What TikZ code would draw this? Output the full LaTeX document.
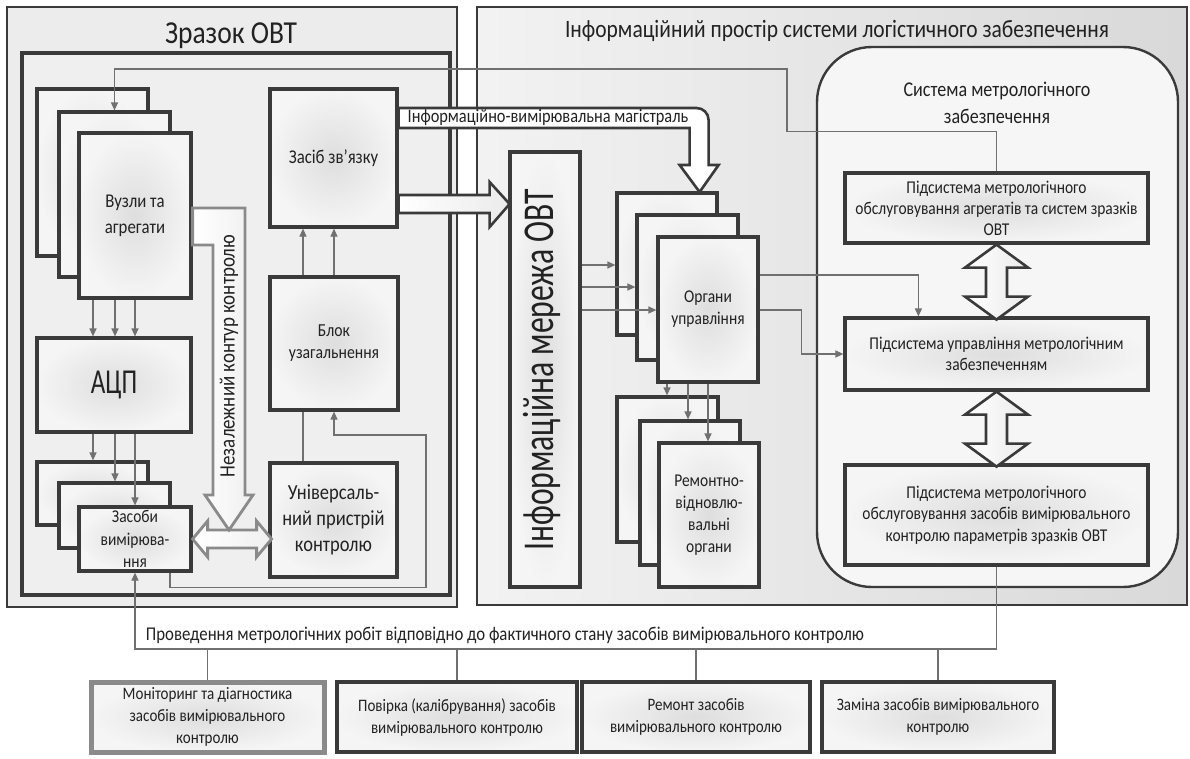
\documentclass[tikz,border=0pt]{standalone}
\usepackage{fontspec}
\setmainfont{Carlito}[FakeStretch=0.86]
\newfontfamily\condf{Carlito}[FakeStretch=0.72]
\usetikzlibrary{arrows.meta,calc}
\definecolor{dk}{HTML}{3A3A3A}
\definecolor{ln}{HTML}{707070}
\definecolor{lg}{HTML}{8A8A8A}
\definecolor{txt}{HTML}{222222}
\definecolor{bgL}{HTML}{ECECEC}
\definecolor{bgI}{HTML}{EFEFEF}
\definecolor{sysf}{HTML}{F6F6F6}
\newcommand{\fsz}[2]{\fontsize{#1}{#2}\selectfont}
\begin{document}
\begin{tikzpicture}[x=1pt,y=-1pt,
  box/.style={draw=dk,line width=3.2pt,inner color=black!13,outer color=black!4,align=center,text=txt,inner sep=0pt},
  thin/.style={draw=ln,line width=1.2pt},
  tip/.style={thin,-{Triangle[length=8pt,width=7pt]}},
  fatd/.style={draw=dk,line width=2.6pt,left color=white,right color=black!8,line join=miter},
  fatg/.style={draw=lg,line width=2.8pt,left color=white,right color=black!6,line join=miter},
  lbl/.style={text=txt,inner sep=0pt}]
\useasboundingbox (0,0) rectangle (1190,758);
\fill[white] (0,0) rectangle (1190,758);
% frames
\draw[dk,line width=2.4pt,fill=bgL] (7,7) rectangle (457,607);
\draw[dk,line width=3.4pt,fill=bgI] (22,53) rectangle (450,595);
\draw[dk,line width=2.4pt,left color=black!5,right color=black!15] (477,7) rectangle (1187,605);
\draw[dk,line width=2.4pt,fill=sysf,rounded corners=55pt] (817,47) rectangle (1178,587);
% titles
\node[lbl,anchor=base,font=\fsz{32}{36}] (t1) at (231,43) {Зразок ОВТ};
\node[lbl,anchor=base,font=\fsz{25}{28}] (t2) at (837,37) {Інформаційний простір системи логістичного забезпечення};
\node[lbl,align=center,font=\fsz{21}{27}] (t3) at (997,103) {Система метрологічного\\забезпечення};
% left part
\node[box,minimum width=111pt,minimum height=167pt] (vuz3) at (92.5,172.5) {};
\node[box,minimum width=111pt,minimum height=165pt] (vuz2) at (114.5,194.5) {};
\node[box,minimum width=112pt,minimum height=165pt,font=\fsz{19.5}{26}] (vuz1) at (135,215.5) {Вузли та\\агрегати};
\node[box,minimum width=154pt,minimum height=94pt,font=\condf\fsz{35}{38}] (adc) at (114,385) {АЦП};
\node[box,minimum width=111pt,minimum height=63pt] (zas3) at (92.5,493.5) {};
\node[box,minimum width=111pt,minimum height=65pt] (zas2) at (114.5,515.5) {};
\node[box,minimum width=112pt,minimum height=64pt,font=\fsz{18}{22.5}] (zas1) at (135,539) {Засоби\\вимірюва-\\ння};
\node[box,minimum width=127pt,minimum height=138pt,font=\fsz{19.5}{23}] (zvyaz) at (333.5,158) {Засіб зв’язку};
\node[box,minimum width=128pt,minimum height=133pt,font=\fsz{18.3}{22}] (blok) at (334,343.5) {Блок\\узагальнення};
\node[box,minimum width=127pt,minimum height=114pt,font=\fsz{21.5}{26}] (univ) at (333.5,520) {Універсаль-\\ний пристрій\\контролю};
% right part
\node[box,minimum width=70pt,minimum height=435pt] (merezha) at (545,369.5) {};
\node[lbl,rotate=90,font=\condf\fsz{44}{46}] (mtxt) at (542,370) {Інформаційна мережа ОВТ};
\node[box,minimum width=100pt,minimum height=142pt] (org3) at (667,264) {};
\node[box,minimum width=101pt,minimum height=145pt] (org2) at (687.5,287.5) {};
\node[box,minimum width=100pt,minimum height=145pt,font=\fsz{18}{22}] (org1) at (708,309.5) {Органи\\управління};
\node[box,minimum width=101pt,minimum height=145pt] (rem3) at (667.5,469.5) {};
\node[box,minimum width=100pt,minimum height=144pt] (rem2) at (690,493) {};
\node[box,minimum width=100pt,minimum height=144pt,font=\fsz{18}{22}] (rem1) at (709,515) {Ремонтно-\\відновлю-\\вальні\\органи};
\node[box,minimum width=303pt,minimum height=70pt,font=\fsz{18}{21}] (sub1) at (996.5,208) {Підсистема метрологічного\\обслуговування агрегатів та систем зразків\\ОВТ};
\node[box,minimum width=303pt,minimum height=72pt,font=\fsz{18}{21}] (sub2) at (996.5,354) {Підсистема управління метрологічним\\забезпеченням};
\node[box,minimum width=303pt,minimum height=100pt,font=\fsz{18}{21.5}] (sub3) at (996.5,515) {Підсистема метрологічного\\обслуговування засобів вимірювального\\контролю параметрів зразків ОВТ};
% bottom boxes
\node[box,draw=lg,line width=5pt,minimum width=233pt,minimum height=70pt,font=\fsz{17.5}{22}] (bA) at (207.5,717) {Моніторинг та діагностика\\засобів вимірювального\\контролю};
\node[box,minimum width=240pt,minimum height=70pt,font=\fsz{17.5}{22}] (bB) at (457,717) {Повірка (калібрування) засобів\\вимірювального контролю};
\node[box,minimum width=228pt,minimum height=70pt,font=\fsz{17.5}{22}] (bC) at (696,717) {Ремонт засобів\\вимірювального контролю};
\node[box,minimum width=232pt,minimum height=70pt,font=\fsz{17.5}{22}] (bD) at (938,717) {Заміна засобів вимірювального\\контролю};
% thin connectors
\coordinate (hl) at (0,649);
\draw[tip] (sub1.north) -- ++(0,-40) -| (787,69) -| (vuz2.north);
\draw[tip] (vuz1.south -| 93,0) -- (adc.north -| 93,0);
\draw[tip] (vuz1.south -| 115,0) -- (adc.north -| 115,0);
\draw[tip] (vuz1.south -| 135,0) -- (adc.north -| 135,0);
\draw[tip] (adc.south -| 93,0) -- (zas3.north -| 93,0);
\draw[tip] (adc.south -| 115,0) -- (zas2.north -| 115,0);
\draw[tip] (adc.south -| 135,0) -- (zas1.north -| 135,0);
\draw[tip] (blok.north -| 303,0) -- (zvyaz.south -| 303,0);
\draw[tip] (blok.north -| 334,0) -- (zvyaz.south -| 334,0);
\draw[thin] (univ.north -| 303,0) -- (blok.south -| 303,0);
\draw[tip] (zas1.south -| 170,0) -- ++(0,15) -| (426,435) -| (blok.south -| 334,0);
\draw[tip] (merezha.east |- 0,265) -- (org3.west |- 0,265);
\draw[tip] (merezha.east |- 0,287) -- (org2.west |- 0,287);
\draw[tip] (merezha.east |- 0,310) -- (org1.west |- 0,310);
\draw[tip] (org1.south -| 667,0) -- (rem3.north -| 667,0);
\draw[tip] (org1.south -| 688,0) -- (rem2.north -| 688,0);
\draw[tip] (org1.south -| 708,0) -- (rem1.north -| 708,0);
\draw[tip] (org1.east |- 0,275) -| ([xshift=75pt]sub2.north west);
\draw[tip] (org1.east |- 0,310) -| ([xshift=-42pt]sub2.west) -- (sub2.west);
\draw[tip] (sub3.south) |- (zas1.south |- hl) -- (zas1.south);
\foreach \b in {bA,bB,bC,bD} \draw[thin] (\b.north) -- (\b.north |- hl);
\node[lbl,anchor=base,font=\fsz{19.5}{22}] (prov) at (505,640) {Проведення метрологічних робіт відповідно до фактичного стану засобів вимірювального контролю};
% fat arrows
\draw[fatd] (zvyaz.east |- 0,195) -- ++(91,0) -- ++(0,-13) -- ++(20,22) -- ++(-20,23) -- ++(0,-14) -- ++(-91,0) -- cycle;
\draw[fatd,left color=white,right color=white] (zvyaz.east |- 0,108) [rounded corners=12pt] -- ++(310,0) -- ++(0,30) [sharp corners] -- ++(0,27) -- ++(10,0) -- ++(-19,27) -- ++(-20,-27) -- ++(10,0) -- ++(0,-37) -- ++(-291,0) -- cycle;
\node[lbl,font=\fsz{19}{22}] (mag) at (548,118) {Інформаційно-вимірювальна магістраль};
\draw[fatd] (sub1.south) -- ++(31.5,23) -- ++(-21,0) -- ++(0,29) -- ++(21,0) -- ++(-31.5,23) -- ++(-31.5,-23) -- ++(21,0) -- ++(0,-29) -- ++(-21,0) -- cycle;
\draw[fatd] (sub2.south) -- ++(31.5,23) -- ++(-21,0) -- ++(0,29) -- ++(21,0) -- ++(-31.5,23) -- ++(-31.5,-23) -- ++(21,0) -- ++(0,-29) -- ++(-21,0) -- cycle;
\draw[fatg] (zas1.east) -- ++(15,-18) -- ++(0,9) -- ++(49,0) -- ++(0,-9) -- ++(15,18) -- ++(-15,18) -- ++(0,-9) -- ++(-49,0) -- ++(0,9) -- cycle;
\draw[fatg] (vuz1.east |- 0,208) -- (245,208) -- (245,495) -- (253,495) -- (229,530) -- (205,495) -- (213,495) -- (213,245) -- (vuz1.east |- 0,245) -- cycle;
\node[lbl,rotate=90,font=\fsz{22}{24}] (nez) at (229,356) {Незалежний контур контролю};
\end{tikzpicture}
\end{document}
